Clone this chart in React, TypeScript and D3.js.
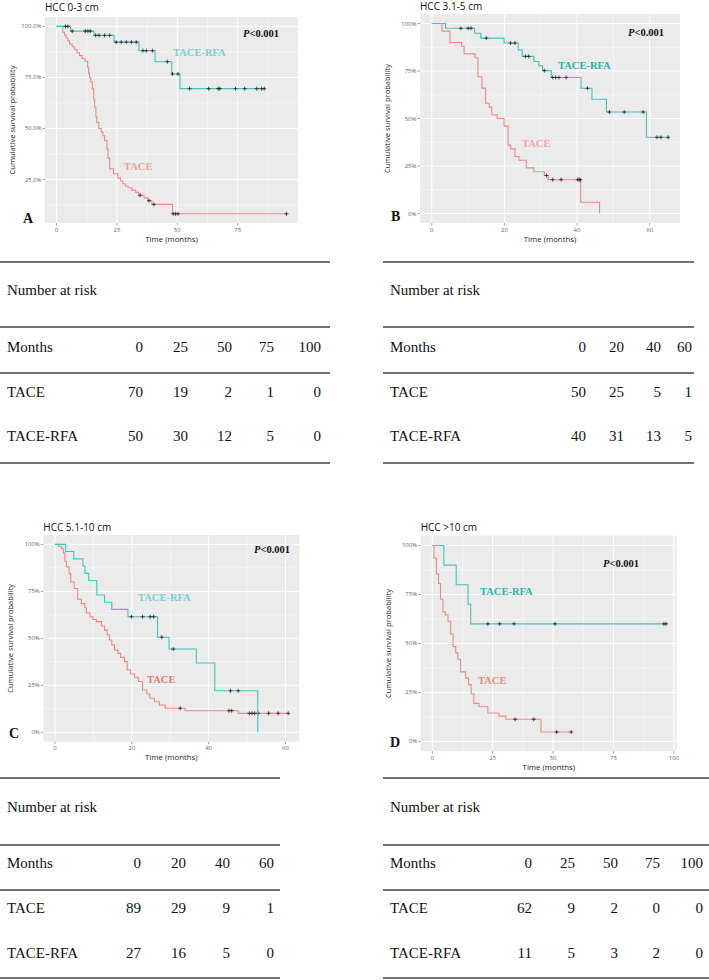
import React from "react";
import * as d3 from "d3";

// ---------------- DATA ----------------
// Panel A: HCC 0-3 cm
const A_RFA_T = [5.8, 15.5, 23.8, 34.1, 40.8, 47.7, 51.1];
const A_RFA_S = [97.7, 95.6, 92.3, 88.1, 82.7, 76.7, 69.5];
const A_RFA_C = [3.7, 4.7, 6.5, 11.9, 13, 14, 16.2, 17.6, 19.9, 22, 24.7, 26.8, 28.9, 31, 33, 35.8, 37.2, 39.7, 45.9, 48, 50.3, 55.1, 63, 66.9, 67.6, 74.1, 77.9, 82.9, 84.9, 86];
const A_TACE_T = [2.6, 3.3, 4.0, 4.7, 5.4, 6.5, 7.5, 8.5, 9.5, 10.5, 11.8, 12.9, 13.3, 13.7, 14.2, 14.8, 15.4, 15.8, 16.3, 16.7, 17.5, 18.5, 19.2, 19.9, 20.9, 21.3, 22.0, 23.6, 25.4, 26.5, 27.5, 28.5, 29.6, 31.2, 32.8, 34.0, 36.2, 37.8, 39.5, 48.0];
const A_TACE_S = [97.1, 95.7, 94.3, 92.9, 91.4, 90.0, 88.6, 87.1, 85.7, 84.3, 82.9, 80.0, 77.1, 75.0, 72.9, 69.4, 64.3, 60.4, 55.7, 52.9, 50.0, 48.2, 46.5, 44.1, 40.0, 35.5, 30.2, 27.8, 25.7, 24.3, 22.9, 21.8, 21.0, 19.8, 18.7, 17.3, 16.0, 14.6, 12.8, 8.2];
const A_TACE_C = [34.6, 38.3, 40.3, 48.3, 49.3, 50.3, 95.2];

// Panel B: HCC 3.1-5 cm
const B_RFA_T = [3.8, 11.8, 13.5, 19.9, 23.8, 24.9, 28.1, 29.5, 30.5, 32.9, 41.1, 44.1, 48.1, 59.1];
const B_RFA_S = [97.5, 94.9, 92.3, 89.7, 86.1, 82.7, 80.0, 77.7, 75.2, 71.6, 65.9, 60.1, 53.4, 40.1];
const B_RFA_C = [8, 10, 10.8, 15, 21.7, 22.9, 25.8, 26.7, 31, 33.3, 34.1, 35, 37, 42.9, 48.9, 53, 58.2, 62, 63.1, 65.1];
const B_TACE_T = [2.8, 5.0, 8.2, 8.9, 11.9, 12.7, 13.8, 14.8, 15.8, 16.5, 18.0, 19.9, 21.0, 21.7, 22.9, 24.0, 26.0, 28.1, 31.0, 32.0, 41.0, 46.2];
const B_TACE_S = [96.0, 90.0, 88.0, 84.0, 82.0, 72.0, 66.0, 58.0, 56.0, 52.0, 50.0, 46.0, 36.0, 34.0, 30.0, 28.0, 24.0, 22.0, 20.0, 17.8, 5.9, 0];
const B_TACE_C = [31.6, 33.3, 35.6, 40.2, 40.6, 40.9];

// Panel C: HCC 5.1-10 cm
const C_RFA_T = [2.8, 4.9, 7.3, 7.8, 8.8, 10.9, 12.9, 14.8, 19.0, 26.7, 29.7, 36.8, 41.6, 52.8];
const C_RFA_S = [96.2, 92.3, 88.5, 84.6, 80.8, 73.1, 69.2, 65.4, 61.5, 50.6, 44.3, 36.9, 22.1, 0];
const C_RFA_C = [19.9, 22.8, 24.8, 25.7, 27.8, 30.8, 45.7, 47.7];
const C_TACE_T = [1.0, 1.7, 2.2, 2.6, 3.0, 3.7, 4.1, 5.0, 5.9, 6.9, 7.8, 8.2, 9.1, 9.9, 10.8, 12.1, 12.9, 13.6, 14.2, 14.8, 15.5, 16.4, 17.1, 18.1, 18.8, 19.7, 20.7, 21.7, 22.8, 23.9, 24.7, 25.9, 27.2, 28.7, 33.9, 47.7];
const C_TACE_S = [98.9, 97.8, 95.5, 91.0, 88.0, 84.3, 80.0, 76.5, 70.8, 68.5, 66.3, 63.5, 61.5, 60.0, 58.9, 56.6, 54.4, 51.8, 49.1, 46.5, 43.8, 42.0, 39.9, 37.6, 33.2, 31.0, 29.3, 27.0, 22.5, 20.4, 18.1, 16.3, 14.5, 12.8, 11.5, 10.1];
const C_TACE_C = [32.6, 45.3, 46.0, 50.6, 51.3, 52.0, 52.9, 55.6, 58.1, 60.7];

// Panel D: HCC >10 cm
const D_RFA_T = [4.8, 9.9, 14.8, 15.9];
const D_RFA_S = [90, 80, 70, 60];
const D_RFA_C = [23, 27.9, 33.8, 50.8, 95.9, 96.8];
const D_TACE_T = [0.7, 1.7, 2.6, 3.4, 4.4, 5.4, 6.5, 7.6, 8.6, 9.7, 10.6, 11.7, 13.8, 15.0, 16.1, 17.2, 19.3, 23.0, 27.6, 30.5, 45.0];
const D_TACE_S = [93.5, 85.5, 80.6, 72.6, 66.1, 64.5, 61.3, 54.8, 48.4, 45.2, 41.9, 35.5, 32.3, 29.0, 24.2, 19.4, 17.7, 14.5, 12.9, 11.3, 4.8];
const D_TACE_C = [34.3, 42.0, 51.5, 57.5];

// Risk tables
const A_MONTHS = ["0", "25", "50", "75", "100"];
const A_RISK_TACE = [70, 19, 2, 1, 0];
const A_RISK_RFA = [50, 30, 12, 5, 0];
const B_MONTHS = ["0", "20", "40", "60"];
const B_RISK_TACE = [50, 25, 5, 1];
const B_RISK_RFA = [40, 31, 13, 5];
const C_MONTHS = ["0", "20", "40", "60"];
const C_RISK_TACE = [89, 29, 9, 1];
const C_RISK_RFA = [27, 16, 5, 0];
const D_MONTHS = ["0", "25", "50", "75", "100"];
const D_RISK_TACE = [62, 9, 2, 0, 0];
const D_RISK_RFA = [11, 5, 3, 2, 0];

const TITLES = ["HCC 0-3 cm", "HCC 3.1-5 cm", "HCC 5.1-10 cm", "HCC >10 cm"];
const LETTERS = ["A", "B", "C", "D"];

// ---------------- STYLE ----------------
const RFA_LINE = "#45C1C1";
const TACE_LINE = "#EC8C86";
const SANS = "'Open Sans', 'Noto Sans', sans-serif";
const SERIF = "'Liberation Serif', 'Times New Roman', serif";

function curvePoints(T: number[], S: number[], C: number[]) {
  const pts: [number, number][] = [[0, 100]];
  T.forEach((t, i) => pts.push([t, S[i]]));
  const last = Math.max(T[T.length - 1], C.length ? C[C.length - 1] : 0);
  const lastS = S[S.length - 1];
  if (last > T[T.length - 1]) pts.push([last, lastS]);
  return pts;
}
function survAt(T: number[], S: number[], t: number) {
  let s = 100;
  for (let i = 0; i < T.length; i++) if (T[i] <= t) s = S[i];
  return s;
}

type PanelCfg = {
  idx: number;
  left: number; right: number; top: number; bottom: number;
  xDomain: [number, number]; yDomain: [number, number];
  xTicks: number[]; xMinor: number[]; yTicks: number[]; yMinor: number[];
  yFmt: (v: number) => string;
  rfa: [number[], number[], number[]];
  tace: [number[], number[], number[]];
  pPos: [number, number]; rfaPos: [number, number]; tacePos: [number, number];
  rfaText: string; taceText: string;
  letterPos: [number, number];
  titleY: number;
};

const Panel = ({ c }: { c: PanelCfg }) => {
  const x = d3.scaleLinear().domain(c.xDomain).range([c.left, c.right]);
  const y = d3.scaleLinear().domain(c.yDomain).range([c.bottom, c.top]);
  const line = d3.line<[number, number]>().x(d => x(d[0])).y(d => y(d[1])).curve(d3.curveStepAfter);
  const curves = [
    { d: c.tace, color: TACE_LINE },
    { d: c.rfa, color: RFA_LINE },
  ];
  const cx = (c.left + c.right) / 2;
  const cy = (c.top + c.bottom) / 2;
  return (
    <g>
      <text x={c.left} y={c.titleY} fontFamily={SANS} fontSize={10} fill="#111">{TITLES[c.idx]}</text>
      <rect x={c.left} y={c.top} width={c.right - c.left} height={c.bottom - c.top} fill="#EBEBEB" />
      {c.xMinor.map(v => <line key={"xm" + v} x1={x(v)} x2={x(v)} y1={c.top} y2={c.bottom} stroke="#fff" strokeWidth={0.5} />)}
      {c.yMinor.map(v => <line key={"ym" + v} x1={c.left} x2={c.right} y1={y(v)} y2={y(v)} stroke="#fff" strokeWidth={0.5} />)}
      {c.xTicks.map(v => <line key={"xM" + v} x1={x(v)} x2={x(v)} y1={c.top} y2={c.bottom} stroke="#fff" strokeWidth={1} />)}
      {c.yTicks.map(v => <line key={"yM" + v} x1={c.left} x2={c.right} y1={y(v)} y2={y(v)} stroke="#fff" strokeWidth={1} />)}
      {curves.map((cv, i) => (
        <g key={i}>
          <path d={line(curvePoints(cv.d[0], cv.d[1], cv.d[2])) || ""} fill="none" stroke={cv.color} strokeWidth={1.1} />
          {cv.d[2].map((t, j) => {
            const px = x(t), py = y(survAt(cv.d[0], cv.d[1], t));
            return <path key={j} d={`M${px - 2},${py}H${px + 2}M${px},${py - 2}V${py + 2}`} stroke="#222" strokeWidth={0.8} />;
          })}
        </g>
      ))}
      {c.yTicks.map(v => (
        <g key={"yt" + v}>
          <line x1={c.left - 2.5} x2={c.left} y1={y(v)} y2={y(v)} stroke="#444" strokeWidth={0.5} />
          <text x={c.left - 3.5} y={y(v) + 2} textAnchor="end" fontFamily={SANS} fontSize={6} fill="#666">{c.yFmt(v)}</text>
        </g>
      ))}
      {c.xTicks.map(v => (
        <g key={"xt" + v}>
          <line x1={x(v)} x2={x(v)} y1={c.bottom} y2={c.bottom + 2.5} stroke="#444" strokeWidth={0.5} />
          <text x={x(v)} y={c.bottom + 8.5} textAnchor="middle" fontFamily={SANS} fontSize={6} fill="#666">{v}</text>
        </g>
      ))}
      <text x={cx} y={c.bottom + 18.5} textAnchor="middle" fontFamily={SANS} fontSize={7.8} fill="#222">Time (months)</text>
      <text transform={`translate(${c.left - 30},${cy}) rotate(-90)`} textAnchor="middle" fontFamily={SANS} fontSize={7.6} fill="#222">Cumulative survival probability</text>
      <text x={c.pPos[0]} y={c.pPos[1]} fontFamily={SERIF} fontSize={10.5} fontWeight="bold" fill="#111">
        <tspan fontStyle="italic">P</tspan>&lt;0.001
      </text>
      <text x={c.rfaPos[0]} y={c.rfaPos[1]} fontFamily={SERIF} fontSize={10.5} fontWeight="bold" fill={c.rfaText}>TACE-RFA</text>
      <text x={c.tacePos[0]} y={c.tacePos[1]} fontFamily={SERIF} fontSize={10.5} fontWeight="bold" fill={c.taceText}>TACE</text>
      <text x={c.letterPos[0]} y={c.letterPos[1]} fontFamily={SERIF} fontSize={14} fontWeight="bold" fill="#111">{LETTERS[c.idx]}</text>
    </g>
  );
};

type TableCfg = {
  x0: number; x1: number; labelX: number;
  cols: number[];
  lines: number[];
  rowsY: number[];
  months: string[]; tace: number[]; rfa: number[];
};

const RiskTable = ({ t }: { t: TableCfg }) => {
  const rows: [string, (string | number)[]][] = [
    ["Months", t.months],
    ["TACE", t.tace],
    ["TACE-RFA", t.rfa],
  ];
  return (
    <g fontFamily={SERIF} fontSize={15} fill="#111">
      {t.lines.map((ly, i) => <line key={i} x1={t.x0} x2={t.x1} y1={ly} y2={ly} stroke="#444" strokeWidth={1.4} />)}
      <text x={t.labelX} y={t.rowsY[0]}>Number at risk</text>
      {rows.map((r, i) => (
        <g key={i}>
          <text x={t.labelX} y={t.rowsY[i + 1]}>{r[0]}</text>
          {r[1].map((v, j) => <text key={j} x={t.cols[j]} y={t.rowsY[i + 1]} textAnchor="end">{v}</text>)}
        </g>
      ))}
    </g>
  );
};

const pct1 = (v: number) => v.toFixed(1) + "%";
const pct0 = (v: number) => v + "%";
const Q = [25, 50, 75, 100];
const QM = [12.5, 37.5, 62.5, 87.5];
const Q0 = [0, 25, 50, 75, 100];

const panels: PanelCfg[] = [
  {
    idx: 0, left: 45, right: 298, top: 17, bottom: 223, titleY: 11,
    xDomain: [-4.76, 99.96], yDomain: [3.7, 104.6],
    xTicks: [0, 25, 50, 75], xMinor: QM, yTicks: Q, yMinor: QM, yFmt: pct1,
    rfa: [A_RFA_T, A_RFA_S, A_RFA_C], tace: [A_TACE_T, A_TACE_S, A_TACE_C],
    pPos: [243, 37], rfaPos: [173, 56], tacePos: [124, 170],
    rfaText: "#7ccfcf", taceText: "#eba29c", letterPos: [23, 223],
  },
  {
    idx: 1, left: 420, right: 680, top: 14, bottom: 223, titleY: 10,
    xDomain: [-3.25, 68.35], yDomain: [-5, 105],
    xTicks: [0, 20, 40, 60], xMinor: [10, 30, 50], yTicks: Q0, yMinor: QM, yFmt: pct0,
    rfa: [B_RFA_T, B_RFA_S, B_RFA_C], tace: [B_TACE_T, B_TACE_S, B_TACE_C],
    pPos: [628, 36], rfaPos: [558, 69], tacePos: [522, 147],
    rfaText: "#26b3a6", taceText: "#f0aaa3", letterPos: [391, 221],
  },
  {
    idx: 2, left: 43.3, right: 299.3, top: 535, bottom: 741.7, titleY: 531,
    xDomain: [-3.03, 63.6], yDomain: [-5, 105],
    xTicks: [0, 20, 40, 60], xMinor: [10, 30, 50], yTicks: Q0, yMinor: QM, yFmt: pct0,
    rfa: [C_RFA_T, C_RFA_S, C_RFA_C], tace: [C_TACE_T, C_TACE_S, C_TACE_C],
    pPos: [254, 553], rfaPos: [138, 601], tacePos: [147, 683],
    rfaText: "#7ccfcf", taceText: "#e07b74", letterPos: [9, 738],
  },
  {
    idx: 3, left: 420.7, right: 677, top: 535.7, bottom: 751.2, titleY: 531,
    xDomain: [-4.8, 101.3], yDomain: [-5, 105],
    xTicks: [0, 25, 50, 75, 100], xMinor: QM, yTicks: Q0, yMinor: QM, yFmt: pct0,
    rfa: [D_RFA_T, D_RFA_S, D_RFA_C], tace: [D_TACE_T, D_TACE_S, D_TACE_C],
    pPos: [603, 567], rfaPos: [480, 595], tacePos: [478, 684],
    rfaText: "#2ab5a8", taceText: "#e58c85", letterPos: [390, 747],
  },
];

const tables: TableCfg[] = [
  { x0: 0, x1: 330, labelX: 7, cols: [143, 188, 232, 274, 321], lines: [262, 327, 373, 463], rowsY: [295, 352, 397, 441], months: A_MONTHS, tace: A_RISK_TACE, rfa: A_RISK_RFA },
  { x0: 383, x1: 694, labelX: 390, cols: [586, 624, 661, 692], lines: [262, 327, 373, 463], rowsY: [295, 352, 397, 441], months: B_MONTHS, tace: B_RISK_TACE, rfa: B_RISK_RFA },
  { x0: 0, x1: 280, labelX: 7, cols: [141, 186, 230, 274], lines: [778, 845, 890, 978], rowsY: [812, 868, 913, 958], months: C_MONTHS, tace: C_RISK_TACE, rfa: C_RISK_RFA },
  { x0: 383, x1: 709, labelX: 390, cols: [532, 575, 618, 660, 703], lines: [778, 845, 890, 978], rowsY: [812, 868, 913, 958], months: D_MONTHS, tace: D_RISK_TACE, rfa: D_RISK_RFA },
];

export default function App() {
  return (
    <div style={{ position: "absolute", left: 0, top: 0, width: 709, height: 980, background: "#fff" }}>
      <svg width={709} height={980} viewBox="0 0 709 980" style={{ display: "block" }}>
        <rect width={709} height={980} fill="#fff" />
        {panels.map(p => <Panel key={p.idx} c={p} />)}
        {tables.map((t, i) => <RiskTable key={i} t={t} />)}
      </svg>
    </div>
  );
}
